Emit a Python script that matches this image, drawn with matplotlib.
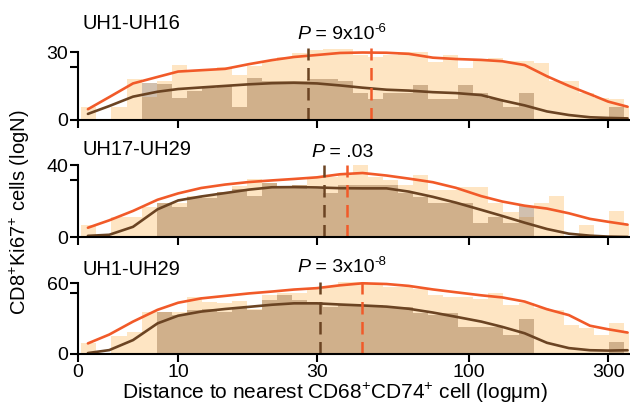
import numpy as np
import matplotlib
matplotlib.use('Agg')
import matplotlib.pyplot as plt

plt.rcParams['font.family'] = ['Liberation Sans', 'DejaVu Sans']
plt.rcParams['mathtext.fontset'] = 'custom'
plt.rcParams['mathtext.rm'] = 'Liberation Sans'
plt.rcParams['mathtext.it'] = 'Liberation Sans:italic'

# histogram bins (distance in um, log spaced)
bin_edges = 4.65 * 10 ** (0.0518 * np.arange(38))

# panel names, p values
panel_names = ['UH1-UH16', 'UH17-UH29', 'UH1-UH29']
p_main = ['9x10', '.03', '3x10']
p_exp = ['-6', '', '-8']

# all cells (light) and proliferating (brown) histogram heights
light1 = [5.5, 0, 5.5, 18, 10, 17, 24.5, 22, 22, 23.5, 20, 24, 26, 28, 29.5, 31, 31.5, 31.5, 29,
          28, 29, 30, 30, 25.5, 29, 23, 27, 27.5, 26, 26, 25, 17, 17, 12, 9.5, 9, 6]
brown1 = [0, 0, 0, 0, 16.5, 16, 9.5, 12.5, 14, 15, 5.5, 18.5, 17, 17, 17, 18, 18, 17, 12,
          9, 12, 12, 15.5, 9, 9, 15.5, 12, 9, 5.5, 12, 0, 0, 0, 0, 0, 5.5, 0]
light2 = [7, 0, 11, 11, 16.5, 19, 19, 23, 23, 25, 28.5, 32.5, 30, 28, 29, 33.5, 33.5, 34.5, 40,
          33.5, 31.5, 29, 34.5, 26, 26, 28, 28, 19, 14, 11.5, 19, 23, 0, 7, 0, 14.5, 7]
brown2 = [0, 0, 0, 0, 0, 18.8, 16.6, 22.5, 21.6, 25, 27, 23, 30, 28, 29, 27, 24.4, 29, 29,
          29, 29, 24.4, 22.5, 18.8, 18.8, 18.8, 7.8, 11.5, 7.8, 17.4, 0, 0, 0, 0, 0, 0.5, 0]
light3 = [9, 0, 15, 19, 36, 36, 36, 48, 44, 43, 45, 38, 50, 52, 52, 55.5, 57, 61, 61, 60, 57,
          57, 55.5, 50, 48, 48, 47, 52, 41.5, 43, 39, 37.5, 24.5, 22, 16, 26, 19]
brown3 = [0, 0, 0, 0, 0, 36, 33, 37, 38, 36, 40, 37, 46, 50, 46, 44, 40, 41.5, 41.5, 41.5, 40,
          40, 34.5, 33, 34.5, 23, 23, 23, 16, 29.5, 0, 0, 0, 0, 0, 10.5, 0]

# density curves
curve_x = [4.9, 5.8, 7, 8.5, 10, 12, 14.5, 17.5, 21, 25, 30, 36, 43, 52, 62, 75, 90, 110,
           130, 155, 185, 220, 260, 300, 350]
orange1 = [4.6, 10, 16.1, 19, 21.4, 22, 22.6, 24.7, 26.5, 27.9, 28.8, 29.7, 29.9, 29.8, 29.3,
           27.6, 27, 26.6, 26, 24.3, 19.3, 15, 11.3, 8, 5.7]
dark1 = [2.5, 6, 10.2, 12.4, 13.6, 14.3, 15, 15.7, 16.2, 16.4, 16.1, 15.2, 14.2, 13.3, 12.9,
         12.2, 11.8, 10.9, 8.5, 6.3, 3.6, 2, 1, 0.7, 0.5]
orange2 = [5.3, 9.4, 14.6, 20.8, 24.3, 27.3, 29.2, 30.6, 31.5, 32.3, 33.2, 34.9, 35.6, 34.2,
           32.5, 30.5, 27.4, 22.8, 19.8, 17.5, 15.9, 13.3, 10.2, 8.6, 7]
dark2 = [0.8, 1.4, 5.8, 15.5, 20.4, 22.6, 24.5, 26.4, 27.7, 27.8, 27.6, 27.2, 27.1, 27.1, 25.3,
         22.4, 19.2, 15.2, 11.8, 8.1, 4.6, 2, 0.9, 0.4, 0.2]
orange3 = [9, 16.5, 27.5, 37.5, 43.5, 47.2, 49.3, 51.4, 53, 54.7, 55.9, 58.3, 60, 59.4, 57.8,
           54.8, 52.4, 49.8, 48, 44.5, 38, 33, 24, 21, 18.2]
dark3 = [0.8, 3.3, 11.8, 26, 32.5, 36, 38.2, 40, 41.8, 43, 43, 42, 41.2, 40.2, 38.4, 35.2, 31.6,
         27.5, 23, 17.6, 9.5, 5, 3.2, 2.9, 3.2]

# median distances (dashed lines)
med_dark = [27.9, 31.6, 30.7]
med_orange = [46.1, 37.9, 42.8]

y_top = [30, 40, 60]
y_mid = [23.6, 32, 52]
y_max = [33.7, 42.8, 64.5]
dash_top = [31.9, 40, 61.5]

lights = [light1, light2, light3]
browns = [brown1, brown2, brown3]
oranges = [orange1, orange2, orange3]
darks = [dark1, dark2, dark3]

c_light = '#FEE5C3'
c_brown = '#8C6239'
c_orange = '#F15A29'
c_dark = '#6B4423'

W, H = 630, 408
fig = plt.figure(figsize=(6.3, 4.08), dpi=100)

# axes boxes in pixels: (top, bottom)
boxes = [(44, 119.5), (160, 237.3), (278, 354)]
widths = np.diff(bin_edges)

for i in range(3):
    top, bot = boxes[i]
    ax = fig.add_axes([78 / W, 1 - bot / H, 551 / W, (bot - top) / H])
    ax.bar(bin_edges[:-1], lights[i], width=widths, align='edge', color=c_light, linewidth=0)
    ax.bar(bin_edges[:-1], browns[i], width=widths, align='edge', color=c_brown, alpha=0.4,
           linewidth=0)
    ax.plot(curve_x, oranges[i], color=c_orange, lw=1.9, solid_capstyle='round')
    ax.plot(curve_x, darks[i], color=c_dark, lw=1.9, solid_capstyle='round')
    ax.plot([med_dark[i]] * 2, [0, dash_top[i]], color=c_dark, lw=1.8, dashes=(5, 3))
    ax.plot([med_orange[i]] * 2, [0, dash_top[i]], color=c_orange, lw=1.8, dashes=(5, 3))

    ax.set_xscale('log')
    ax.set_xlim(4.53, 354)
    ax.set_ylim(0, y_max[i])
    ax.set_xticks([4.53, 10, 30, 100, 300])
    ax.xaxis.set_minor_locator(matplotlib.ticker.NullLocator())
    if i == 2:
        ax.set_xticklabels(['0', '10', '30', '100', '300'], fontsize=14)
    else:
        ax.set_xticklabels([])
    ax.set_yticks([0, y_mid[i], y_top[i]])
    ax.set_yticklabels(['0', '', str(y_top[i])], fontsize=14)
    for s in ['top', 'right']:
        ax.spines[s].set_visible(False)
    ax.spines['left'].set_bounds(0, y_top[i])
    ax.spines['left'].set_linewidth(1.5)
    ax.spines['bottom'].set_linewidth(1.5)
    ax.tick_params(width=1.5, length=6, pad=1)
    ax.patch.set_alpha(0)

    fig.text(82 / W, 1 - [29, 155, 275][i] / H, panel_names[i], fontsize=14.5, va='baseline')

    # P value: italic P, main text and a small raised exponent
    px0 = [297, 311, 297][i]
    yb = 1 - [39, 157, 272][i] / H
    t = fig.text(px0 / W, yb, 'P', fontsize=14, style='italic', va='baseline')
    fig.canvas.draw()
    bb = t.get_window_extent()
    t2 = fig.text(bb.x1 / W, yb, ' = ' + p_main[i], fontsize=14, va='baseline')
    if p_exp[i]:
        fig.canvas.draw()
        bb2 = t2.get_window_extent()
        fig.text(bb2.x1 / W, yb + 7 / H, p_exp[i], fontsize=9.5, va='baseline')

fig.text(335 / W, 1 - 399 / H, 'Distance to nearest CD68$^{+}$CD74$^{+}$ cell (log\u03bcm)',
         fontsize=15, ha='center', va='baseline')
fig.text(20 / W, 1 - 212 / H, 'CD8$^{+}$Ki67$^{+}$ cells (logN)', fontsize=14.5, rotation=90,
         ha='center', va='center')

plt.savefig('out.png', dpi=100)
